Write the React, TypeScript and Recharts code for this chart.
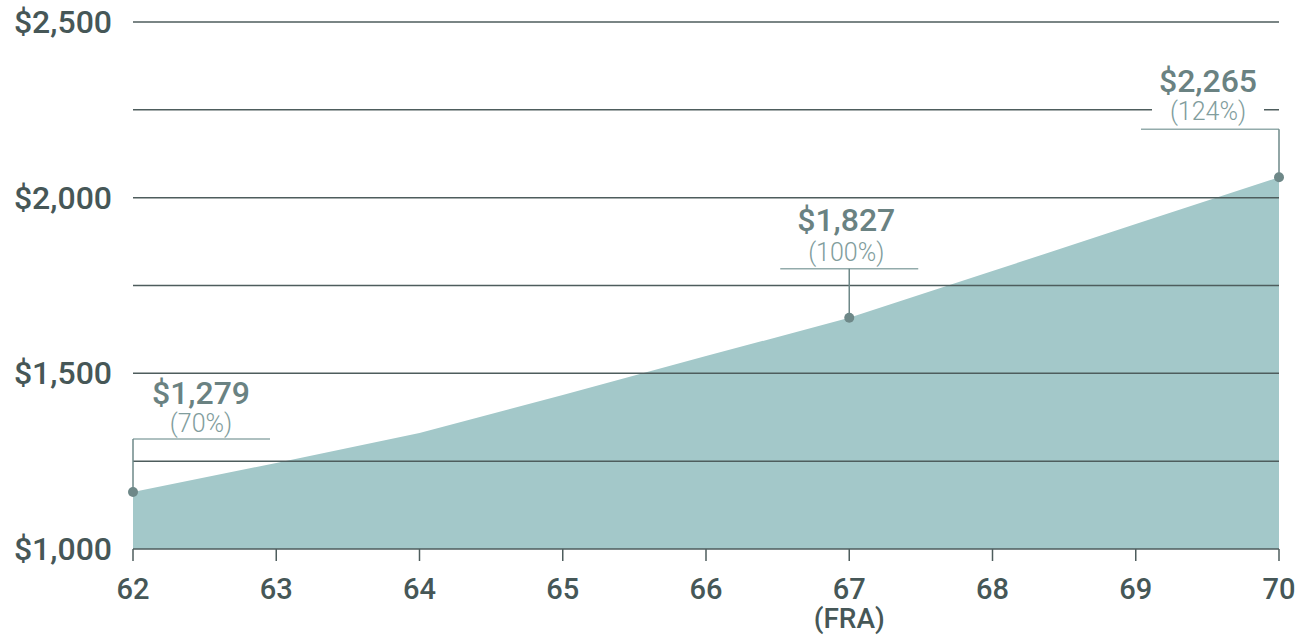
import {
  Area,
  ComposedChart,
  ReferenceDot,
  ReferenceLine,
  XAxis,
  YAxis,
} from 'recharts'

// monthly benefit by claiming age
const ages = [62, 63, 64, 65, 66, 67, 68, 69, 70]
const benefits = [1162, 1245, 1330, 1438, 1549, 1658, 1791, 1925, 2058]

const yTicks = [1000, 1500, 2000, 2500]
const gridValues = [1250, 1500, 1750, 2000, 2250, 2500]

const calloutAges = [62, 67, 70]
const calloutAmounts = ['$1,279', '$1,827', '$2,265']
const calloutPercents = ['(70%)', '(100%)', '(124%)']

const data = ages.map((age, i) => ({ age, benefit: benefits[i] }))

const FONT = 'Roboto, "Noto Sans", sans-serif'
const GRID = '#4e5d5d'
const AXIS_TEXT = '#465757'
const FILL = '#a3c8c9'
const DOT = '#6e8888'
const AMOUNT = '#6a8282'
const PCT = '#819d9d'
const LEADER_H = '#93abab'

// leader/label offsets relative to each dot
const layout = [
  { left: 0, right: 137, lineY: -53, textX: 68, amountY: -88, pctY: -60 },
  { left: -69, right: 69, lineY: -49, textX: -3, amountY: -87, pctY: -57 },
  { left: -138, right: 0, lineY: -48, textX: -71, amountY: -85, pctY: -57 },
]

const XTick = (props: any) => {
  const { x, y, payload } = props
  return (
    <g>
      <text
        x={x}
        y={y + 36}
        textAnchor="middle"
        fontFamily={FONT}
        fontSize={29}
        fontWeight={500}
        fill={AXIS_TEXT}
      >
        {payload.value}
      </text>
      {payload.value === 67 && (
        <text
          x={x}
          y={y + 65}
          textAnchor="middle"
          fontFamily={FONT}
          fontSize={28}
          fontWeight={500}
          fill={AXIS_TEXT}
        >
          (FRA)
        </text>
      )}
    </g>
  )
}

const YTick = (props: any) => {
  const { x, y, payload } = props
  return (
    <text
      x={x}
      y={y + 11}
      textAnchor="end"
      fontFamily={FONT}
      fontSize={32}
      fontWeight={500}
      fill={AXIS_TEXT}
    >
      {'$' + payload.value.toLocaleString('en-US')}
    </text>
  )
}

const makeCallout = (i: number) => (props: any) => {
  const { cx, cy } = props
  const l = layout[i]
  const tx = cx + l.textX
  return (
    <g>
      <rect x={tx - 56} y={cy + l.pctY - 20} width={112} height={25} fill="#fff" />
      <line
        x1={cx + l.left}
        x2={cx + l.right}
        y1={cy + l.lineY}
        y2={cy + l.lineY}
        stroke={LEADER_H}
        strokeWidth={1.5}
      />
      <line x1={cx} x2={cx} y1={cy + l.lineY} y2={cy} stroke={DOT} strokeWidth={1.5} />
      <circle cx={cx} cy={cy} r={5} fill={DOT} />
      <text
        x={tx}
        y={cy + l.amountY}
        textAnchor="middle"
        fontFamily={FONT}
        fontSize={32}
        fontWeight={500}
        fill={AMOUNT}
      >
        {calloutAmounts[i]}
      </text>
      <text
        x={tx}
        y={cy + l.pctY}
        textAnchor="middle"
        fontFamily={FONT}
        fontSize={25}
        fontWeight={300}
        fill={PCT}
      >
        {calloutPercents[i]}
      </text>
    </g>
  )
}

export default function App() {
  return (
    <div style={{ position: 'absolute', left: 0, top: 0, background: '#fff' }}>
      <ComposedChart
        width={1299}
        height={636}
        data={data}
        margin={{ top: 22, right: 20, bottom: 0, left: 0 }}
      >
        <XAxis
          dataKey="age"
          type="number"
          domain={[62, 70]}
          ticks={ages}
          interval={0}
          height={87}
          axisLine={{ stroke: GRID, strokeWidth: 1.5 }}
          tickLine={{ stroke: GRID, strokeWidth: 1.5 }}
          tickSize={12}
          tick={<XTick />}
        />
        <YAxis
          type="number"
          domain={[1000, 2500]}
          ticks={yTicks}
          width={133}
          axisLine={false}
          tickLine={false}
          tickSize={0}
          tickMargin={21}
          tick={<YTick />}
        />
        <Area
          type="linear"
          dataKey="benefit"
          stroke="none"
          fill={FILL}
          fillOpacity={1}
          dot={false}
          activeDot={false}
          isAnimationActive={false}
        />
        {gridValues.map((v) => (
          <ReferenceLine key={v} y={v} stroke={GRID} strokeWidth={1.5} />
        ))}
        {calloutAges.map((age, i) => (
          <ReferenceDot
            key={age}
            x={age}
            y={benefits[ages.indexOf(age)]}
            shape={makeCallout(i)}
          />
        ))}
      </ComposedChart>
    </div>
  )
}
